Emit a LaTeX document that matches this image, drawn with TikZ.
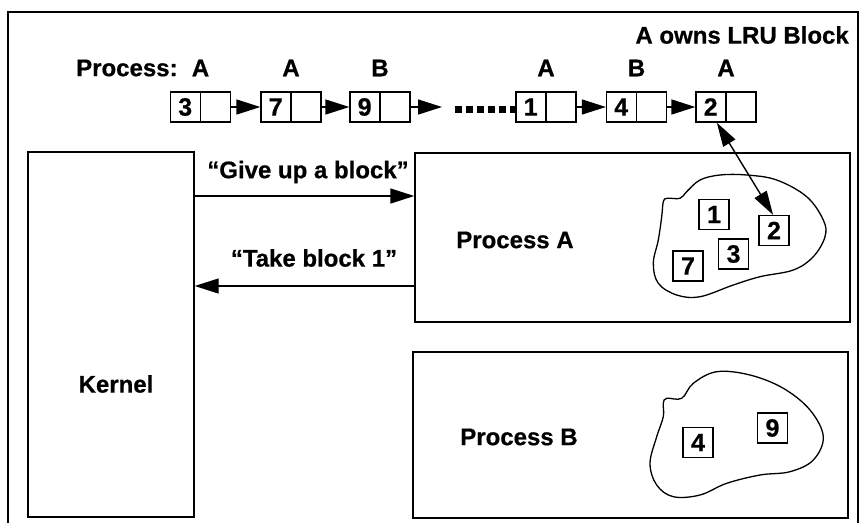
\documentclass[tikz,border=0pt]{standalone}
\usepackage{fontspec}
\setmainfont{Liberation Sans}[BoldFeatures={FakeBold=0.6}]
\usetikzlibrary{arrows.meta,calc}
\tikzset{
  lbl/.style={font=\fontsize{24}{28}\selectfont\bfseries, inner sep=0pt},
  lbox/.style={draw, line width=1.3pt, minimum width=60pt, minimum height=30pt, inner sep=0pt},
  sq/.style={draw, line width=1.3pt, minimum width=30pt, minimum height=30pt, inner sep=0pt, font=\fontsize{25}{28}\selectfont\bfseries},
  bigbox/.style={draw, line width=1.4pt, inner sep=0pt},
  arr/.style={line width=1.4pt, -{Triangle[length=24pt,width=15pt]}},
  arrtwo/.style={line width=1.4pt, {Triangle[length=24pt,width=14pt]}-{Triangle[length=24pt,width=14pt]}},
  dotline/.style={line width=7pt, dash pattern=on 6.5pt off 4.5pt},
  cloud/.style={line width=1.3pt},
}
\begin{document}
\begin{tikzpicture}[x=1pt,y=-1pt]
\useasboundingbox (0,0) rectangle (859,523);
% outer frame
\draw[line width=1.3pt] (8,523) -- (8,12) -- (858,12) -- (858,523);

% header texts
\node[lbl, anchor=east] (owns) at (849,35) {A owns LRU Block};
\node[lbl, anchor=west] (proc) at (76,68) {Process:};

% list boxes
\node[lbox] (l3) at (200.5,107) {};
\node[lbox] (l7) at (291,107) {};
\node[lbox] (l9) at (380,107) {};
\node[lbox] (l1) at (546,107) {};
\node[lbox] (l4) at (636.5,107) {};
\node[lbox] (l2) at (726,107) {};
\foreach \n/\v/\o in {l3/3/A, l7/7/A, l9/9/B, l1/1/A, l4/4/B, l2/2/A}{
  \draw[line width=1.3pt] (\n.north) -- (\n.south);
  \node[lbl, font=\fontsize{25}{28}\selectfont\bfseries] (\n num) at ($(\n.west)!0.25!(\n.east)$) {\v};
  \node[lbl] (\n own) at (\n |- proc) {\o};
}
\draw[arr] (l3.east) -- (l7.west);
\draw[arr] (l7.east) -- (l9.west);
\coordinate (dstart) at (442,107);
\draw[arr] (l9.east) -- (dstart);
\coordinate (dfrom) at (455,109);
\draw[dotline] (dfrom) -- (l1.west |- dfrom);
\draw[arr] (l1.east) -- (l4.west);
\draw[arr] (l4.east) -- (l2.west);

% big boxes
\node[bigbox, minimum width=166pt, minimum height=365pt] (kernel) at (111,334.5) {};
\node[lbl] (klab) at (116,384) {Kernel};
\node[bigbox, minimum width=435pt, minimum height=169pt] (pA) at (632.5,237.5) {};
\node[lbl] (palab) at (515,240) {Process A};
\node[bigbox, minimum width=435pt, minimum height=166pt] (pB) at (630.5,435) {};
\node[lbl] (pblab) at (519,437) {Process B};

% messages
\coordinate (gy) at (0,196);
\coordinate (ty) at (0,286);
\draw[arr] (kernel.east |- gy) -- (pA.west |- gy);
\node[lbl] (give) at (308,172) {“Give up a block”};
\draw[arr] (pA.west |- ty) -- (kernel.east |- ty);
\node[lbl] (take) at (314,258) {“Take block 1”};

% cloud A
\draw[cloud] plot[smooth cycle, tension=0.6] coordinates {
 (663.3,201.7) (667,198.3) (680,198.3) (686.7,191.7) (700,180) (720,175)
 (746.7,175) (776.7,180) (806.7,196.7) (823.3,220) (825,236.7) (813.3,256.7)
 (793.3,270) (760,276.7) (733.3,285) (700,296.7) (676.7,295) (658.3,283.3)
 (653.3,263.3) (658.3,240) (661.7,216.7)};
\node[sq] (c1) at (714,214.5) {1};
\node[sq] (c2) at (774,230.5) {2};
\node[sq] (c3) at (733.5,254) {3};
\node[sq] (c7) at (688,266) {7};

% cloud B
\draw[cloud] plot[smooth cycle, tension=0.6] coordinates {
 (663.3,403.3) (666.7,398.3) (681.7,398.3) (693.3,383.3) (716.7,371.7)
 (750,375) (783.3,388.3) (810,410) (823.3,436.7) (813.3,460) (790,471.7)
 (760,475) (726.7,483.3) (700,495) (673.3,496.7) (656.7,485) (650,463.3)
 (656.7,436.7) (663.3,416.7)};
\node[sq] (c4) at (698,442.5) {4};
\node[sq] (c9) at (772.5,428) {9};

% LRU link
\draw[arrtwo] ($(l2.south west)!0.35!(l2.south east)$) -- ($(c2.north west)!0.47!(c2.north east)$);
\end{tikzpicture}
\end{document}
